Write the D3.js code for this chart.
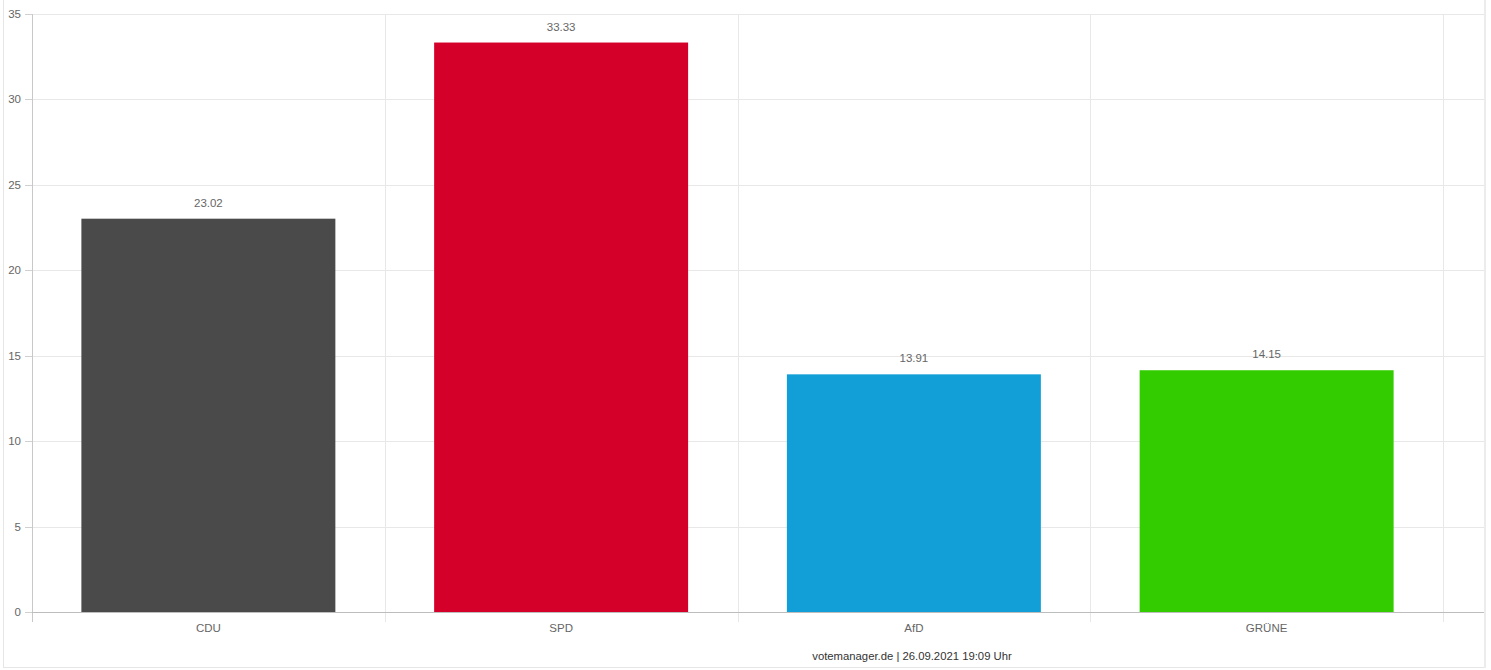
<!DOCTYPE html>
<html><head><meta charset="utf-8">
<script src="https://cdn.jsdelivr.net/npm/d3@7"></script>
<style>
html,body{margin:0;padding:0;background:#fff;overflow:hidden}
svg{display:block;font-family:"Liberation Sans",Arial,sans-serif}
</style></head>
<body>
<svg id="c" width="1491" height="670"></svg>
<script>
const categories = ["CDU","SPD","AfD","GRÜNE"];
const values = [23.02, 33.33, 13.91, 14.15];
const colors = ["#4a4a4a","#d50029","#129fd7","#33cc00"];
const yTicks = [0,5,10,15,20,25,30,35];
const footer = "votemanager.de | 26.09.2021 19:09 Uhr";

(function(){
const svg = d3.select("#c");
const mLeft = 32, mRight = 1443, plotRight = 1484, mTop = 14, mBottom = 612;
const fs = 11.5;

// frame
svg.append("rect").attr("x",3.5).attr("y",-10).attr("width",1481).attr("height",677.5)
  .attr("fill","none").attr("stroke","#e6e6e6").attr("stroke-width",1);
svg.append("line").attr("x1",1485).attr("x2",1485).attr("y1",0).attr("y2",668)
  .attr("stroke","#ececec").attr("stroke-width",2);

const x = d3.scaleBand().domain(categories).range([mLeft,mRight]).paddingInner(0.28).paddingOuter(0.14);
const y = d3.scaleLinear().domain([0,35]).range([mBottom,mTop]);

// horizontal gridlines
svg.append("g").selectAll("line").data(yTicks.filter(d=>d>0)).join("line")
  .attr("x1",mLeft-7).attr("x2",plotRight)
  .attr("y1",d=>Math.round(y(d))+0.5).attr("y2",d=>Math.round(y(d))+0.5)
  .attr("stroke","#e8e8e8");
// y tick marks left
svg.append("g").selectAll("line").data(yTicks).join("line")
  .attr("x1",mLeft-7).attr("x2",mLeft)
  .attr("y1",d=>Math.round(y(d))+0.5).attr("y2",d=>Math.round(y(d))+0.5)
  .attr("stroke","#d0d0d0");

// vertical gridlines at band boundaries
const step = x.step();
const bounds = d3.range(categories.length+1).map(i => mLeft + i*step);
svg.append("g").selectAll("line").data(bounds).join("line")
  .attr("x1",d=>Math.round(d)+0.5).attr("x2",d=>Math.round(d)+0.5)
  .attr("y1",mTop).attr("y2",mBottom+10)
  .attr("stroke",(d,i)=>i===0?"#c8c8c8":"#e8e8e8");

// bars
svg.append("g").selectAll("rect").data(values).join("rect")
  .attr("x",(d,i)=>x(categories[i])).attr("width",x.bandwidth())
  .attr("y",d=>y(d)).attr("height",d=>y(0)-y(d))
  .attr("fill",(d,i)=>colors[i]);

// x axis line
svg.append("line").attr("x1",mLeft).attr("x2",plotRight)
  .attr("y1",mBottom+0.5).attr("y2",mBottom+0.5).attr("stroke","#bdbdbd");

// y labels
svg.append("g").selectAll("text").data(yTicks).join("text")
  .attr("x",21).attr("y",d=>y(d)+4)
  .attr("text-anchor","end").attr("font-size",fs).attr("fill","#666")
  .text(d=>d);

// category labels
svg.append("g").selectAll("text").data(categories).join("text")
  .attr("x",d=>x(d)+x.bandwidth()/2).attr("y",mBottom+20)
  .attr("text-anchor","middle").attr("font-size",fs).attr("fill","#666")
  .text(d=>d);

// value labels
svg.append("g").selectAll("text").data(values).join("text")
  .attr("x",(d,i)=>x(categories[i])+x.bandwidth()/2).attr("y",d=>y(d)-12)
  .attr("text-anchor","middle").attr("font-size",fs).attr("fill","#666")
  .text(d=>d.toFixed(2));

// footer
svg.append("text").attr("x",912).attr("y",660).attr("text-anchor","middle")
  .attr("font-size",11.3).attr("fill","#333").text(footer);
})();
</script>
</body></html>
